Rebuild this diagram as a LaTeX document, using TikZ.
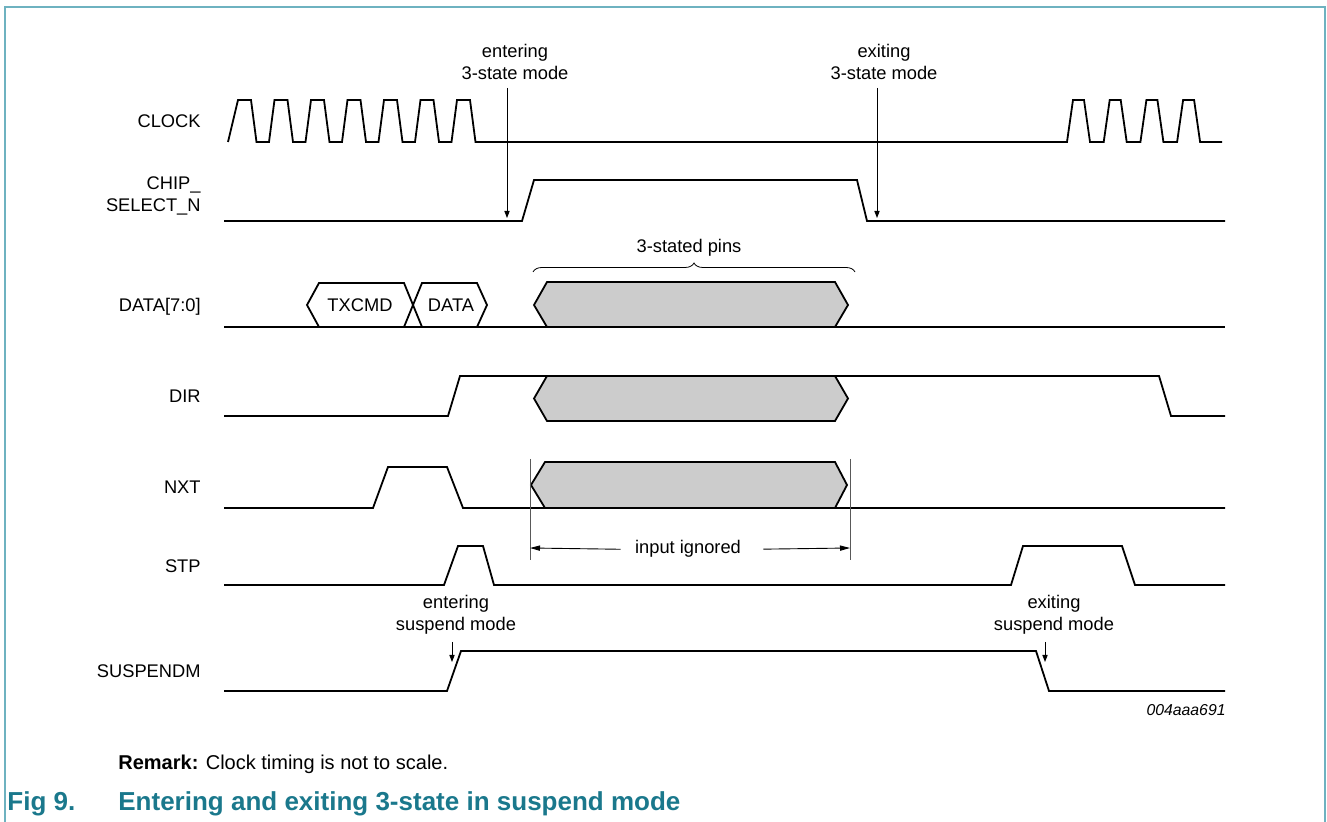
\documentclass[tikz,border=0pt]{standalone}
\usepackage{fontspec}
\setmainfont{Liberation Sans}
\usetikzlibrary{arrows.meta,positioning,calc,decorations.pathreplacing}
\definecolor{nxpteal}{RGB}{26,120,140}
\definecolor{framecol}{RGB}{110,178,192}
\definecolor{busgray}{RGB}{204,204,204}

\begin{document}
\begin{tikzpicture}[x=0.5pt,y=-0.5pt,
  wave/.style={line width=0.9pt},
  bus/.style={wave,fill=busgray},
  siglabel/.style={anchor=base east,inner sep=0pt,font=\fontsize{9.15pt}{11pt}\selectfont},
  note/.style={anchor=base,inner sep=0pt,font=\fontsize{9.15pt}{11pt}\selectfont},
  notearrow/.style={line width=0.45pt,-{Triangle[length=3.5pt,width=2.6pt]}},
  dimarrow/.style={line width=0.45pt,-{Triangle[length=5pt,width=2.6pt]}},
  marker/.style={line width=0.5pt,draw=black!65}]
  \useasboundingbox (0,0) rectangle (1327,822);
  \draw[framecol,line width=1.3pt] (5,822) -- (5,7) -- (1325,7) -- (1325,822);

  \node[siglabel] (clk) at (201,127.5) {CLOCK};
  \node[siglabel] (csn) at (201,189.5) {CHIP\_};
  \node[siglabel] (csn2) at (201,211.5) {SELECT\_N};
  \node[siglabel] (dat) at (201,311.5) {DATA[7:0]};
  \node[siglabel] (dir) at (201,402.5) {DIR};
  \node[siglabel] (nxt) at (201,494) {NXT};
  \node[siglabel] (stp) at (201,572.5) {STP};
  \node[siglabel] (susp) at (201,677.5) {SUSPENDM};

  \draw[wave] (228,142) -- (238,100)
    \foreach \k in {1,...,6} {-- ++(13,0) -- ++(5.5,42) -- ++(12.5,0) -- ++(5.5,-42)}
    -- ++(13,0) -- ++(5.5,42) -- (1067,142)
    \foreach \k in {1,...,3} {-- ++(6,-42) -- ++(11,0) -- ++(6,42) -- ++(13.7,0)}
    -- ++(6,-42) -- ++(11,0) -- ++(6,42) -- (1222,142);
  \draw[wave] (224,221) -- (522,221) -- (534,180) -- (857,180) -- (867,221) -- (1225,221);

  \draw[wave] (307,305) -- (319,283) -- (404,283) -- (422,327) -- (477,327) -- (487,305)
    -- (477,283) -- (422,283) -- (404,327) -- (319,327) -- cycle;
  \node[note] (txcmd) at (360,311.5) {TXCMD};
  \node[note] (datval) at (451,311.5) {DATA};
  \draw[bus] (534,305) -- (547,282) -- (835,282) -- (848,305) -- (835,327) -- (547,327) -- cycle;
  \draw[wave] (224,327) -- (1225,327);

  \draw[bus] (534,398.5) -- (547,376) -- (835,376) -- (848,398.5) -- (835,421) -- (547,421) -- cycle;
  \draw[wave] (224,416) -- (448,416) -- (460,376) -- (1159,376) -- (1171,416) -- (1225,416);

  \draw[bus] (531,485) -- (545,462) -- (835,462) -- (847,485) -- (835,508) -- (545,508) -- cycle;
  \draw[wave] (224,508) -- (373,508) -- (388,467) -- (447,467) -- (463,508) -- (1225,508);

  \draw[wave] (224,585) -- (444,585) -- (458,546) -- (483,546) -- (494,585) -- (1011,585)
    -- (1023,546) -- (1122,546) -- (1135,585) -- (1225,585);
  \draw[wave] (224,691) -- (447,691) -- (461,651) -- (1036,651) -- (1049,691) -- (1225,691);

  \node[note] (enter3) at (515,58) {entering};
  \node[note] (enter3b) at (515,80) {3-state mode};
  \coordinate (enter3tip) at (507,218);
  \draw[notearrow] ([yshift=-4pt]enter3b.base -| enter3tip) -- (enter3tip);
  \node[note] (exit3) at (884,58) {exiting};
  \node[note] (exit3b) at (884,80) {3-state mode};
  \coordinate (exit3tip) at (877,218);
  \draw[notearrow] ([yshift=-4pt]exit3b.base -| exit3tip) -- (exit3tip);

  \node[note] (pins) at (689,253) {3-stated pins};
  \draw[line width=0.4pt,decorate,decoration={brace,amplitude=4.5pt}] (533,272) -- (855,272);

  \draw[marker] (530,459) -- (530,560);
  \draw[marker] (850,459) -- (850,560);
  \node[note,inner xsep=7pt] (ignored) at (688,554) {input ignored};
  \coordinate (ignL) at (530,548);
  \coordinate (ignR) at (850,548);
  \draw[dimarrow] (ignored.west) -- (ignL);
  \draw[dimarrow,shorten <=4pt] (ignored.east) -- (ignR);

  \node[note] (entersusp) at (456,609) {entering};
  \node[note] (entersuspb) at (456,631) {suspend mode};
  \coordinate (entersusptip) at (452,662);
  \draw[notearrow] ([yshift=-5.5pt]entersuspb.base -| entersusptip) -- (entersusptip);
  \node[note] (exitsusp) at (1054,609) {exiting};
  \node[note] (exitsuspb) at (1054,631) {suspend mode};
  \coordinate (exitsusptip) at (1045,662);
  \draw[notearrow] ([yshift=-5.5pt]exitsuspb.base -| exitsusptip) -- (exitsusptip);

  \node[anchor=base east,inner sep=0pt,font=\itshape\fontsize{7.9pt}{9pt}\selectfont] (figid) at (1226,715) {004aaa691};
  \node[anchor=base west,inner sep=0pt,font=\fontsize{10pt}{12pt}\selectfont] (remark) at (118,769) {\textbf{Remark:} Clock timing is not to scale.};
  \node[anchor=base west,inner sep=0pt,text=nxpteal,font=\bfseries\fontsize{13pt}{15pt}\selectfont] (figno) at (7,810) {Fig 9.};
  \node[anchor=base west,inner sep=0pt,text=nxpteal,font=\bfseries\fontsize{13pt}{15pt}\selectfont] (figtitle) at (118,810) {Entering and exiting 3-state in suspend mode};
\end{tikzpicture}
\end{document}
